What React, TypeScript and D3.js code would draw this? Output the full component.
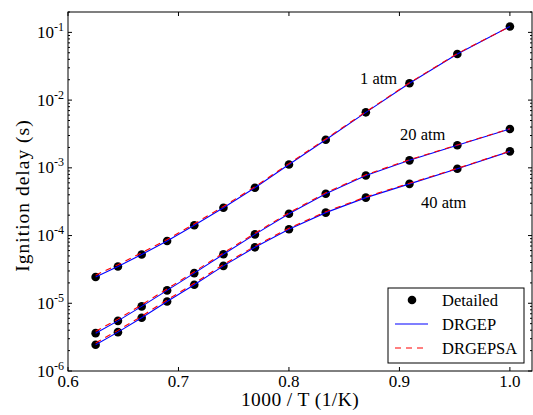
import React from "react";
import * as d3 from "d3";

const invT = [0.625, 0.6452, 0.6667, 0.6897, 0.7143, 0.7407, 0.7692, 0.8, 0.8333, 0.8696, 0.9091, 0.9524, 1.0];

const detailed1 = [2.44e-5, 3.5e-5, 5.26e-5, 8.3e-5, 1.42e-4, 2.58e-4, 5.08e-4, 1.12e-3, 2.6e-3, 6.6e-3, 1.77e-2, 4.8e-2, 0.122];
const detailed20 = [3.62e-6, 5.5e-6, 9.0e-6, 1.55e-5, 2.79e-5, 5.3e-5, 1.04e-4, 2.1e-4, 4.15e-4, 7.7e-4, 1.29e-3, 2.15e-3, 3.74e-3];
const detailed40 = [2.44e-6, 3.75e-6, 6.1e-6, 1.06e-5, 1.88e-5, 3.57e-5, 6.7e-5, 1.24e-4, 2.18e-4, 3.63e-4, 5.8e-4, 9.7e-4, 1.75e-3];

const drgep1 = [2.44e-5, 3.5e-5, 5.26e-5, 8.3e-5, 1.42e-4, 2.58e-4, 5.08e-4, 1.12e-3, 2.6e-3, 6.6e-3, 1.77e-2, 4.8e-2, 0.122];
const drgep20 = [3.62e-6, 5.5e-6, 9.0e-6, 1.55e-5, 2.79e-5, 5.3e-5, 1.04e-4, 2.1e-4, 4.15e-4, 7.7e-4, 1.29e-3, 2.15e-3, 3.74e-3];
const drgep40 = [2.44e-6, 3.75e-6, 6.1e-6, 1.06e-5, 1.88e-5, 3.57e-5, 6.7e-5, 1.24e-4, 2.18e-4, 3.63e-4, 5.8e-4, 9.7e-4, 1.75e-3];

const drgepsa1 = [2.6e-5, 3.72e-5, 5.57e-5, 8.75e-5, 1.49e-4, 2.69e-4, 5.26e-4, 1.155e-3, 2.67e-3, 6.72e-3, 1.8e-2, 4.86e-2, 0.1225];
const drgepsa20 = [3.85e-6, 5.83e-6, 9.5e-6, 1.63e-5, 2.92e-5, 5.54e-5, 1.08e-4, 2.17e-4, 4.27e-4, 7.9e-4, 1.32e-3, 2.18e-3, 3.77e-3];
const drgepsa40 = [2.6e-6, 3.98e-6, 6.45e-6, 1.12e-5, 1.97e-5, 3.73e-5, 6.98e-5, 1.285e-4, 2.25e-4, 3.72e-4, 5.92e-4, 9.82e-4, 1.765e-3];

const xTicks = [0.6, 0.7, 0.8, 0.9, 1.0];
const xTickLabels = ["0.6", "0.7", "0.8", "0.9", "1.0"];
const yTicks = [1e-6, 1e-5, 1e-4, 1e-3, 1e-2, 1e-1];
const yTickExps = ["-6", "-5", "-4", "-3", "-2", "-1"];

const annotations = [
  { text: "1 atm", x: 360, y: 84 },
  { text: "20 atm", x: 400, y: 140 },
  { text: "40 atm", x: 421, y: 208 },
];

const legendItems = ["Detailed", "DRGEP", "DRGEPSA"];

const W = 533, H = 415;
const L = 68, R = 532, T = 12, B = 371;
const FONT = "'Liberation Serif'";

export default function App() {
  const x = d3.scaleLinear().domain([0.6, 1.02]).range([L, R]);
  const y = d3.scaleLog().domain([1e-6, 0.2]).range([B, T]);

  const line = d3
    .line<[number, number]>()
    .x((d) => x(d[0]))
    .y((d) => y(d[1]));

  const pts = (arr: number[]) => invT.map((t, i) => [t, arr[i]] as [number, number]);

  const minor: number[] = [];
  for (let e = -6; e <= -1; e++) {
    for (let m = 2; m <= 9; m++) {
      const v = m * Math.pow(10, e);
      if (v <= 0.2 + 1e-12) minor.push(v);
    }
  }

  const detailedSets = [detailed1, detailed20, detailed40];
  const drgepSets = [drgep1, drgep20, drgep40];
  const drgepsaSets = [drgepsa1, drgepsa20, drgepsa40];
  const ts = { fontFamily: FONT };

  return (
    <svg
      width={W}
      height={H}
      style={{ position: "absolute", left: 0, top: 0, background: "#fff", fontFamily: FONT }}
    >
      <rect x={0} y={0} width={W} height={H} fill="#fff" />
      {detailedSets.map((s, k) =>
        pts(s).map((p, i) => (
          <circle key={`d${k}-${i}`} cx={x(p[0])} cy={y(p[1])} r={4.3} fill="#000" />
        ))
      )}
      {drgepSets.map((s, k) => (
        <path key={`b${k}`} d={line(pts(s)) || ""} fill="none" stroke="#0000ff" strokeWidth={1.1} />
      ))}
      {drgepsaSets.map((s, k) => (
        <path
          key={`r${k}`}
          d={line(pts(s)) || ""}
          fill="none"
          stroke="#ff0000"
          strokeWidth={1.1}
          strokeDasharray="6,5"
        />
      ))}

      <rect x={L} y={T} width={R - L} height={B - T} fill="none" stroke="#000" strokeWidth={1} />

      {xTicks.map((t, i) => (
        <g key={`xt${i}`}>
          <line x1={x(t)} x2={x(t)} y1={B} y2={B - 4} stroke="#000" />
          <line x1={x(t)} x2={x(t)} y1={T} y2={T + 4} stroke="#000" />
          <text style={ts} x={x(t)} y={387} fontSize={17} textAnchor="middle">
            {xTickLabels[i]}
          </text>
        </g>
      ))}

      {yTicks.map((t, i) => (
        <g key={`yt${i}`}>
          <line x1={L} x2={L + 4} y1={y(t)} y2={y(t)} stroke="#000" />
          <line x1={R} x2={R - 4} y1={y(t)} y2={y(t)} stroke="#000" />
          <text style={ts} x={64} y={y(t) + 5.5} fontSize={17} textAnchor="end">
            10
            <tspan fontSize={12} dy={-7}>
              {yTickExps[i]}
            </tspan>
          </text>
        </g>
      ))}
      {minor.map((t, i) => (
        <g key={`ym${i}`}>
          <line x1={L} x2={L + 2} y1={y(t)} y2={y(t)} stroke="#000" />
          <line x1={R} x2={R - 2} y1={y(t)} y2={y(t)} stroke="#000" />
        </g>
      ))}

      <text style={ts} x={(L + R) / 2} y={406} fontSize={19.5} letterSpacing={0.4} textAnchor="middle">
        1000 / T (1/K)
      </text>
      <text
        style={ts}
        transform={`translate(29, 195.5) rotate(-90)`}
        fontSize={19.5}
        letterSpacing={1.0}
        textAnchor="middle"
      >
        Ignition delay (s)
      </text>

      {annotations.map((a, i) => (
        <text style={ts} key={`an${i}`} x={a.x} y={a.y} fontSize={16.5}>
          {a.text}
        </text>
      ))}

      <rect x={388} y={288} width={136} height={75} fill="#fff" stroke="#000" strokeWidth={1} />
      <circle cx={412} cy={300} r={4.3} fill="#000" />
      <line x1={395} x2={428} y1={324} y2={324} stroke="#0000ff" strokeWidth={1.1} />
      <line x1={395} x2={428} y1={348} y2={348} stroke="#ff0000" strokeWidth={1.1} strokeDasharray="6,5" />
      {legendItems.map((l, i) => (
        <text style={ts} key={`lg${i}`} x={442} y={300 + i * 24 + 5.5} fontSize={16.5}>
          {l}
        </text>
      ))}
    </svg>
  );
}
